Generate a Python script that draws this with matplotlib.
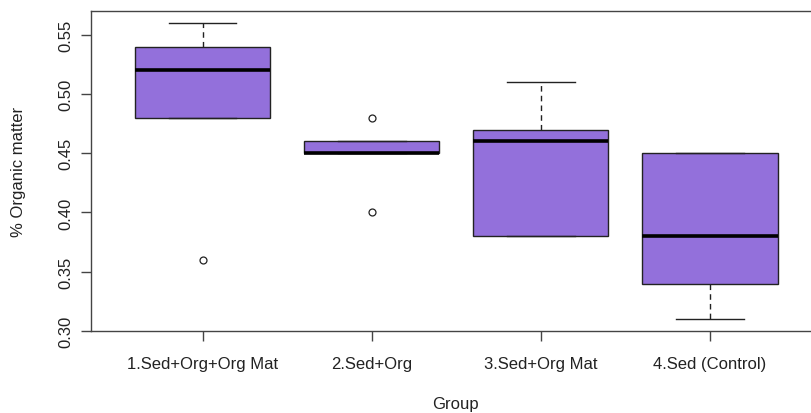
import matplotlib
matplotlib.use("Agg")
import matplotlib.pyplot as plt

plt.rcParams['font.family'] = ['Liberation Sans', 'DejaVu Sans']

groups = ["1.Sed+Org+Org Mat", "2.Sed+Org", "3.Sed+Org Mat", "4.Sed (Control)"]
whislo = [0.48, 0.45, 0.38, 0.31]
q1 = [0.48, 0.45, 0.38, 0.34]
med = [0.52, 0.45, 0.46, 0.38]
q3 = [0.54, 0.46, 0.47, 0.45]
whishi = [0.56, 0.46, 0.51, 0.45]
fliers = [[0.36], [0.48, 0.40], [], []]
yticks = [0.30, 0.35, 0.40, 0.45, 0.50, 0.55]

stats = []
for i in range(len(groups)):
    stats.append(dict(label=groups[i], whislo=whislo[i], q1=q1[i], med=med[i],
                      q3=q3[i], whishi=whishi[i], fliers=fliers[i]))

W, H = 811, 414
fig = plt.figure(figsize=(W / 100, H / 100), dpi=100)
left, right, top, bottom = 91, 821.5, 12, 332
ax = fig.add_axes([left / W, (H - bottom) / H, (right - left) / W, (bottom - top) / H])

edge = '#222222'
ax.bxp(stats, positions=[1, 2, 3, 4], widths=0.8, patch_artist=True,
       boxprops=dict(facecolor='#9370DB', edgecolor=edge, linewidth=1.0),
       medianprops=dict(color='black', linewidth=2.6, solid_capstyle='butt'),
       whiskerprops=dict(color=edge, linewidth=1.0, linestyle=(0, (4, 3))),
       capprops=dict(color=edge, linewidth=1.0),
       capwidths=0.4,
       flierprops=dict(marker='o', markerfacecolor='none', markeredgecolor=edge,
                       markersize=5, markeredgewidth=0.9, linestyle='none'),
       manage_ticks=False)

ax.set_xlim(0.34, 4.66)
ax.set_ylim(0.30, 0.57)
ax.set_xticks([1, 2, 3, 4])
ax.set_xticklabels(groups, fontsize=12)
ax.set_yticks(yticks)
ax.set_yticklabels(["%.2f" % v for v in yticks], fontsize=12, rotation=90, va='center')
for s in ax.spines.values():
    s.set_color('#444444')
    s.set_linewidth(1.0)
ax.tick_params(axis='both', length=7, width=1.0, color='#444444', labelcolor='#222222')
ax.tick_params(axis='x', pad=11)
ax.tick_params(axis='y', pad=6)

fig.text(19 / W, 1 - 172 / H, "% Organic matter", rotation=90, ha='center', va='center',
         fontsize=12, color='#222222')
fig.text(455 / W, 1 - 405 / H, "Group", ha='center', va='center', fontsize=12, color='#222222')

fig.savefig("out.png", dpi=100)
